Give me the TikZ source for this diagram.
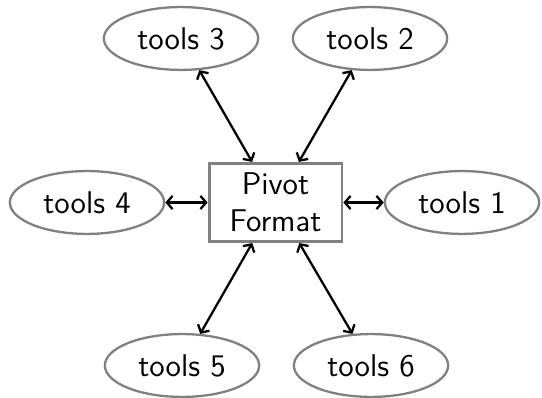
\documentclass[tikz,border=0pt]{standalone}
\usepackage{tikz}
\usetikzlibrary{shapes.geometric, arrows.meta}
\definecolor{mGray}{HTML}{808080}

\begin{document}
\begin{tikzpicture}[x=0.35pt, y=0.35pt,
  tool/.style={ellipse, draw=mGray, line width=0.8pt, inner sep=0pt,
               minimum width=54pt, minimum height=22pt,
               font=\sffamily\fontsize{11}{13}\selectfont},
  pivot/.style={rectangle, draw=mGray, line width=1pt,
                minimum width=46.5pt, minimum height=27pt,
                align=center, font=\sffamily\fontsize{11}{13}\selectfont},
  link/.style={{Straight Barb[length=2pt,width=4.6pt]}-{Straight Barb[length=2pt,width=4.6pt]},
               line width=0.8pt},
]
  \useasboundingbox (0,0) rectangle (542,397);

  \node[pivot] (pf) at (275.5,194.5) {Pivot\\Format};

  \node[tool] (t1) at (462,194.5) {tools 1};
  \node[tool] (t2) at (370,358.5) {tools 2};
  \node[tool] (t3) at (181,358.5) {tools 3};
  \node[tool] (t4) at (87,194.5) {tools 4};
  \node[tool] (t5) at (182,31.5) {tools 5};
  \node[tool] (t6) at (371,31.5) {tools 6};

  \foreach \t in {t1,t2,t3,t4,t5,t6}
    \draw[link] (\t) -- (pf);
\end{tikzpicture}
\end{document}
